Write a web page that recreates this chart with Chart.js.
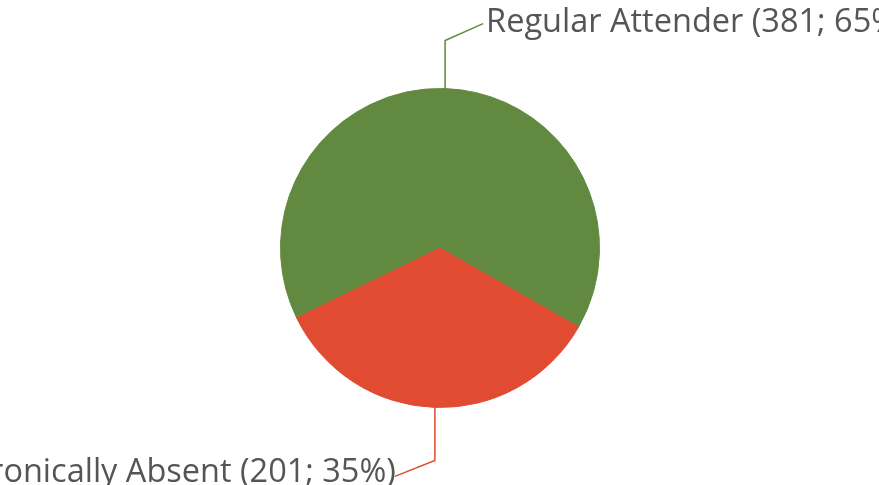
<!DOCTYPE html>
<html>
<head>
<meta charset="utf-8">
<script src="https://cdn.jsdelivr.net/npm/chart.js@4"></script>
<style>
html,body{margin:0;padding:0;background:#fff;}
#wrap{width:879px;height:485px;}
</style>
</head>
<body>
<div id="wrap"><canvas id="c" width="879" height="485"></canvas></div>
<script>
const categories = ["Regular Attender", "Chronically Absent"];
const values = [381, 201];
const sliceColors = ["#61893f", "#e04b31"];

const total = values.reduce((a, b) => a + b, 0);

const leaderPlugin = {
  id: 'leaders',
  afterDatasetsDraw(chart) {
    const ctx = chart.ctx;
    const meta = chart.getDatasetMeta(0);
    meta.data.forEach((arc, i) => {
      const p = arc.getProps(['x', 'y', 'startAngle', 'endAngle', 'outerRadius'], true);
      const mid = (p.startAngle + p.endAngle) / 2;
      const sx = p.x + Math.cos(mid) * p.outerRadius;
      const sy = p.y + Math.sin(mid) * p.outerRadius;
      const up = Math.sin(mid) < 0;
      const right = Math.cos(mid) >= 0;
      const vy = up ? sy - 48 : sy + 53;
      const ex = right ? sx + 38 : sx - 40;
      const ey = up ? vy - 17 : vy + 16;
      ctx.save();
      ctx.strokeStyle = sliceColors[i];
      ctx.lineWidth = 1.5;
      ctx.beginPath();
      ctx.moveTo(sx, sy);
      ctx.lineTo(sx, vy);
      ctx.lineTo(ex, ey);
      ctx.stroke();
      const pct = Math.round(values[i] / total * 100);
      const txt = categories[i] + ' (' + values[i] + '; ' + pct + '%)';
      ctx.font = '32.5px "Open Sans"';
      ctx.fillStyle = '#555555';
      ctx.textBaseline = 'middle';
      ctx.textAlign = right ? 'left' : 'right';
      ctx.fillText(txt, right ? ex + 3 : ex + 1, up ? ey - 1 : ey - 4);
      ctx.restore();
    });
  }
};

new Chart(document.getElementById('c'), {
  type: 'pie',
  data: {
    labels: categories,
    datasets: [{
      data: values,
      backgroundColor: sliceColors,
      borderColor: sliceColors,
      borderWidth: 1
    }]
  },
  options: {
    responsive: false,
    animation: false,
    rotation: -116,
    layout: { padding: { top: 88, bottom: 77, left: 1, right: 0 } },
    plugins: {
      legend: { display: false },
      tooltip: { enabled: false }
    }
  },
  plugins: [leaderPlugin]
});
</script>
</body>
</html>
